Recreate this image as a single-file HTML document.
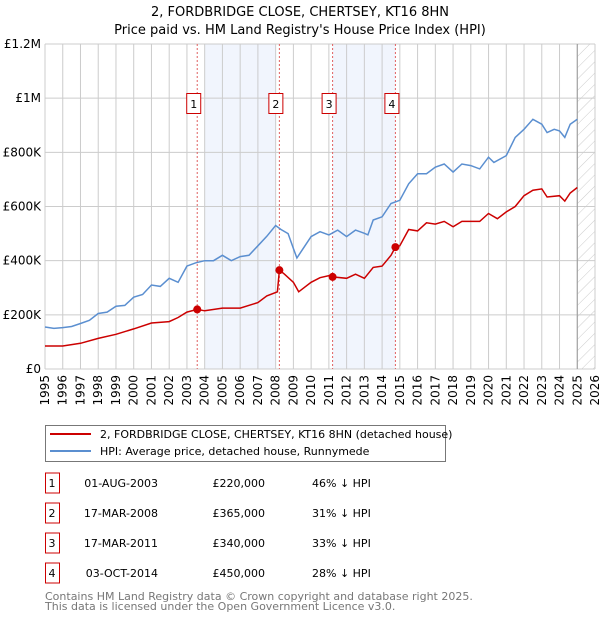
<!DOCTYPE html>
<html><head><meta charset="utf-8"><style>
body{margin:0;background:#fff;width:600px;height:620px;overflow:hidden;font-family:"DejaVu Sans","Liberation Sans",sans-serif}
svg text{font-family:"DejaVu Sans","Liberation Sans",sans-serif}
</style></head><body>
<svg id="chart" width="600" height="620" viewBox="0 0 600 620" xmlns="http://www.w3.org/2000/svg">
<defs><pattern id="hatch" width="8" height="8" patternUnits="userSpaceOnUse" patternTransform="rotate(45)"><line x1="0" y1="0" x2="0" y2="8" stroke="#ccc" stroke-width="1"/></pattern></defs>
<text x="300" y="16" text-anchor="middle" font-size="13">2, FORDBRIDGE CLOSE, CHERTSEY, KT16 8HN</text>
<text x="300" y="34" text-anchor="middle" font-size="13">Price paid vs. HM Land Registry's House Price Index (HPI)</text>
<g id="shades"></g><g id="grid"></g><g id="vlines"></g><g id="series"></g><g id="axes"></g>
<g>
<rect x="45.5" y="425.5" width="400" height="36" fill="#fff" stroke="#777"/>
<line x1="50" y1="434" x2="91" y2="434" stroke="#cc0000" stroke-width="2"/>
<text x="100" y="438" font-size="11">2, FORDBRIDGE CLOSE, CHERTSEY, KT16 8HN (detached house)</text>
<line x1="50" y1="451" x2="91" y2="451" stroke="#5b8fd0" stroke-width="2"/>
<text x="100" y="455" font-size="11">HPI: Average price, detached house, Runnymede</text>
</g>
<g id="table" font-size="11"></g>
<text x="45" y="600" font-size="11" fill="#777">Contains HM Land Registry data © Crown copyright and database right 2025.</text>
<text x="45" y="610" font-size="11" fill="#777">This data is licensed under the Open Government Licence v3.0.</text>
</svg>
<script>
const hpiYears=[1995,1995.5,1996,1996.5,1997,1997.5,1998,1998.5,1999,1999.5,2000,2000.5,2001,2001.5,2002,2002.5,2003,2003.5,2004,2004.5,2005,2005.5,2006,2006.5,2007,2007.5,2008,2008.3,2008.7,2009,2009.2,2009.5,2010,2010.5,2011,2011.5,2012,2012.5,2013,2013.2,2013.5,2014,2014.5,2015,2015.5,2016,2016.5,2017,2017.5,2018,2018.5,2019,2019.5,2020,2020.3,2021,2021.5,2022,2022.5,2023,2023.3,2023.7,2024,2024.3,2024.6,2025];
const hpiValues=[155,150,153,157,168,180,205,210,232,235,265,275,310,305,335,320,380,392,400,400,420,400,415,420,455,490,530,515,500,445,410,440,489,507,495,513,489,513,501,495,550,562,611,623,684,721,721,745,757,727,757,751,739,782,763,788,855,885,922,904,873,885,879,855,904,922];
const ppYears=[1995,1996,1997,1998,1999,2000,2001,2002,2002.5,2003,2003.58,2004,2005,2006,2007,2007.5,2008.1,2008.21,2008.5,2009,2009.3,2010,2010.5,2011,2011.21,2012,2012.5,2013,2013.5,2014,2014.5,2014.75,2015,2015.5,2016,2016.5,2017,2017.5,2018,2018.5,2019,2019.5,2020,2020.5,2021,2021.5,2022,2022.5,2023,2023.3,2024,2024.3,2024.6,2025];
const ppValues=[85,85,95,113,128,148,170,175,190,210,220,215,225,225,245,270,285,365,350,320,285,320,337,345,340,335,350,335,375,380,420,450,455,515,510,540,535,545,525,545,545,545,574,555,580,600,640,660,665,635,640,620,650,670];
const saleLabels=["1","2","3","4"];
const saleYears=[2003.58,2008.21,2011.21,2014.75];
const saleValues=[220,365,340,450];
const saleDates=["01-AUG-2003","17-MAR-2008","17-MAR-2011","03-OCT-2014"];
const salePrices=["£220,000","£365,000","£340,000","£450,000"];
const saleDiffs=["46% ↓ HPI","31% ↓ HPI","33% ↓ HPI","28% ↓ HPI"];
const yTicks=[0,200,400,600,800,1000,1200];
const yTickLabels=["£0","£200K","£400K","£600K","£800K","£1M","£1.2M"];
const xTicks=[];for(let y=1995;y<=2026;y++)xTicks.push(y);
const NS="http://www.w3.org/2000/svg";
const X0=45,X1=595,Y0=369,Y1=44;
const xs=y=>X0+(y-1995)/31*(X1-X0);
const ys=v=>Y0-v/1200*(Y0-Y1);
function mk(tag,attrs,parent){const e=document.createElementNS(NS,tag);for(const k in attrs)e.setAttribute(k,attrs[k]);parent.appendChild(e);return e;}
const shades=document.getElementById('shades'),grid=document.getElementById('grid'),vl=document.getElementById('vlines'),ser=document.getElementById('series'),ax=document.getElementById('axes'),tb=document.getElementById('table');
let r=mk('rect',{x:xs(2004),y:Y1,width:xs(2008)-xs(2004),height:Y0-Y1,fill:'#eef3fc',opacity:0.8},shades);


r=mk('rect',{x:xs(2011.21),y:Y1,width:xs(2014.75)-xs(2011.21),height:Y0-Y1,fill:'#eef3fc',opacity:0.8},shades);


r=mk('rect',{x:xs(2025),y:Y1,width:X1-xs(2025),height:Y0-Y1,fill:'url(#hatch)'},shades);


xTicks.forEach(t=>{const l=mk('line',{x1:xs(t),x2:xs(t),y1:Y1,y2:Y0,stroke:'#ccc'},grid);


const tx=mk('text',{x:0,y:0,'font-size':12,'text-anchor':'end',transform:`translate(${xs(t)+4},${Y0+6}) rotate(-90)`},ax);tx.textContent=t;

});
yTicks.forEach((t,i)=>{const l=mk('line',{x1:X0,x2:X1,y1:ys(t),y2:ys(t),stroke:'#ccc'},grid);


const tx=mk('text',{x:X0-4,y:ys(t)+4,'font-size':12,'text-anchor':'end'},ax);tx.textContent=yTickLabels[i];

});
let l=mk('line',{x1:xs(2025),x2:xs(2025),y1:Y1,y2:Y0,stroke:'#999'},grid);


saleYears.forEach((y,i)=>{const d=mk('line',{x1:xs(y),x2:xs(y),y1:Y1,y2:Y0,stroke:'#e06060','stroke-dasharray':'2,2'},vl);


const b=mk('rect',{x:xs(y)-7-3.5,y:93.5,width:14,height:20,fill:'#fff',stroke:'#cc0000'},vl);


const t=mk('text',{x:xs(y)-3.5,y:108,'font-size':11,'text-anchor':'middle'},vl);t.textContent=saleLabels[i];

});
const pts=(a,b)=>a.map((y,i)=>xs(y).toFixed(1)+','+ys(b[i]).toFixed(1)).join(' ');
let p=mk('polyline',{points:pts(hpiYears,hpiValues),fill:'none',stroke:'#5b8fd0','stroke-width':1.5},ser);


p=mk('polyline',{points:pts(ppYears,ppValues),fill:'none',stroke:'#cc0000','stroke-width':1.5},ser);


saleYears.forEach((y,i)=>{const c=mk('circle',{cx:xs(y),cy:ys(saleValues[i]),r:4,fill:'#cc0000'},ser);

});
saleLabels.forEach((s,i)=>{const cy=483+i*30;
const b=mk('rect',{x:45.5,y:cy-10,width:14,height:20,fill:'#fff',stroke:'#cc0000'},tb);


const vals=[[s,52,'middle'],[saleDates[i],158,'end'],[salePrices[i],265,'end'],[saleDiffs[i],312,'start']];
vals.forEach(([v,x,a])=>{const t=mk('text',{x:x,y:cy+4,'text-anchor':a},tb);t.textContent=v;

});});
</script>
</body></html>
